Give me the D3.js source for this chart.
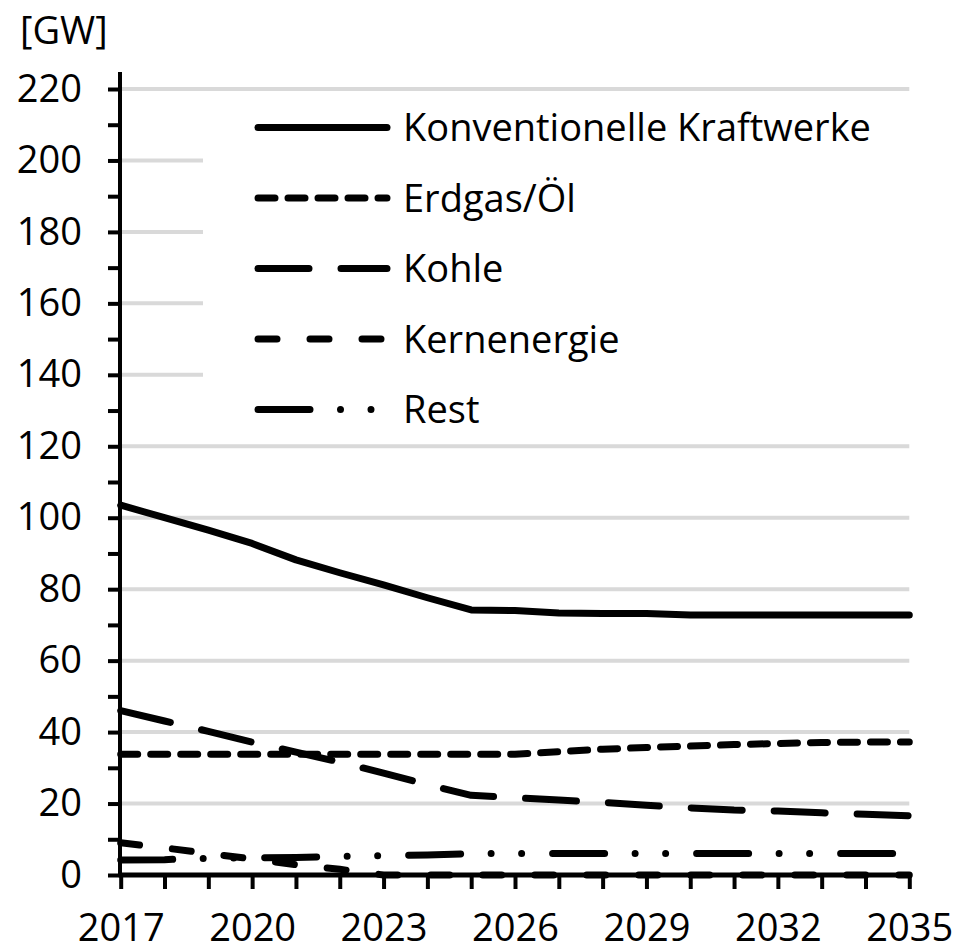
<!DOCTYPE html>
<head>
  <meta charset="utf-8">
  <script src="https://d3js.org/d3.v7.min.js"></script>
  <style>
    body { margin:0; background:#fff; }
    text { font-family: "Open Sans", "DejaVu Sans Condensed", sans-serif; font-size: 38px; fill: #000; }
  </style>
</head>
<body>
  <script>
    // values, GW per year
    var years = [2017, 2018, 2019, 2020, 2021, 2022, 2023, 2024, 2025, 2026,
                 2027, 2028, 2029, 2030, 2031, 2032, 2033, 2034, 2035];
    var konventionell = [103.5, 100, 96.5, 92.8, 88.2, 84.6, 81.2, 77.6, 74.2, 74.0,
                         73.3, 73.2, 73.2, 72.8, 72.8, 72.8, 72.8, 72.8, 72.8];
    var erdgasOel = [33.8, 33.8, 33.8, 33.8, 33.8, 33.8, 33.8, 33.8, 33.8, 33.8,
                     34.5, 35.2, 35.7, 36.1, 36.5, 36.8, 37.1, 37.2, 37.2];
    var kohle = [46.0, 43.1, 40.2, 37.2, 34.4, 31.6, 28.5, 25.3, 22.3, 21.6,
                 21.0, 20.3, 19.5, 18.8, 18.2, 17.9, 17.4, 17.0, 16.6];
    var kernenergie = [9.0, 7.6, 6.0, 4.5, 2.9, 1.6, 0, 0, 0, 0,
                       0, 0, 0, 0, 0, 0, 0, 0, 0];
    var rest = [4.2, 4.3, 4.7, 4.8, 4.9, 5.2, 5.4, 5.6, 6.0, 6.0,
                6.0, 6.0, 6.0, 6.0, 6.0, 6.0, 6.0, 6.0, 6.0];
    var yearLabels = [2017, 2020, 2023, 2026, 2029, 2032, 2035];
    var yTicks = [0, 10, 20, 30, 40, 50, 60, 70, 80, 90, 100, 110, 120, 130, 140,
                  150, 160, 170, 180, 190, 200, 210, 220];

    var series = [
      {name: "Konventionelle Kraftwerke", values: konventionell, dash: null},
      {name: "Erdgas/Öl", values: erdgasOel, dash: "17,13"},
      {name: "Kohle", values: kohle, dash: "51,32"},
      {name: "Kernenergie", values: kernenergie, dash: "19,33"},
      {name: "Rest", values: rest, dash: "52,30.5,0,30.5,0,31"}
    ];

    var svg = d3.select("body").append("svg")
      .attr("width", 957)
      .attr("height", 948);

    var x = d3.scaleLinear().domain([2017, 2035]).range([120.7, 909.3]);
    var y = d3.scaleLinear().domain([0, 220]).range([875, 89]);

    // gridlines
    svg.append("g").selectAll("line")
      .data(yTicks.filter(function (d) { return d > 0 && d % 20 == 0; }))
      .enter().append("line")
      .attr("x1", x(2017)).attr("x2", x(2035))
      .attr("y1", function (d) { return y(d); })
      .attr("y2", function (d) { return y(d); })
      .attr("stroke", "#d9d9d9")
      .attr("stroke-width", 4);

    // legend background hides the grid behind it
    svg.append("rect")
      .attr("x", 203).attr("y", 97)
      .attr("width", 712).attr("height", 340)
      .attr("fill", "#fff");

    var line = d3.line()
      .x(function (d, i) { return x(years[i]); })
      .y(function (d) { return y(d); });

    svg.append("g").selectAll("path")
      .data(series)
      .enter().append("path")
      .attr("d", function (s) { return line(s.values); })
      .attr("fill", "none")
      .attr("stroke", "#000")
      .attr("stroke-width", 7)
      .attr("stroke-linecap", "round")
      .attr("stroke-linejoin", "round")
      .attr("stroke-dasharray", function (s) { return s.dash; });

    // y axis
    var yAxis = svg.append("g")
      .attr("transform", "translate(120,0)")
      .call(d3.axisLeft(y)
        .tickValues(yTicks)
        .tickSize(12)
        .tickSizeOuter(0)
        .tickPadding(26)
        .tickFormat(function (d) { return d % 20 == 0 ? d : ""; }));
    yAxis.select(".domain").remove();
    yAxis.selectAll(".tick line").attr("stroke", "#000").attr("stroke-width", 4).attr("x2", -12).attr("x1", 2);
    yAxis.selectAll("text").attr("font-size", null).attr("font-family", null);
    yAxis.append("line")
      .attr("x1", 0).attr("x2", 0)
      .attr("y1", 877).attr("y2", 72)
      .attr("stroke", "#000").attr("stroke-width", 4);

    // x axis
    var xAxis = svg.append("g")
      .attr("transform", "translate(0,875)")
      .call(d3.axisBottom(x)
        .tickValues(years)
        .tickSize(14)
        .tickSizeOuter(0)
        .tickPadding(25)
        .tickFormat(function (d) { return yearLabels.indexOf(d) >= 0 ? d : ""; }));
    xAxis.select(".domain").remove();
    xAxis.selectAll(".tick line").attr("stroke", "#000").attr("stroke-width", 4);
    xAxis.selectAll("text").attr("font-size", null).attr("font-family", null);
    xAxis.append("line")
      .attr("x1", x(2017) - 2).attr("x2", x(2035) + 2)
      .attr("y1", 0).attr("y2", 0)
      .attr("stroke", "#000").attr("stroke-width", 5);

    svg.append("text")
      .attr("x", 20).attr("y", 44)
      .text("[GW]");

    // legend
    var legend = svg.append("g").selectAll("g")
      .data(series)
      .enter().append("g")
      .attr("transform", function (s, i) { return "translate(0," + (127.5 + i * 70.5) + ")"; });
    legend.append("line")
      .attr("x1", 258).attr("x2", 387)
      .attr("stroke", "#000")
      .attr("stroke-width", 7)
      .attr("stroke-linecap", "round")
      .attr("stroke-dasharray", function (s) { return s.dash; });
    legend.append("text")
      .attr("x", 403)
      .attr("dy", "0.36em")
      .text(function (s) { return s.name; });
  </script>
</body>
